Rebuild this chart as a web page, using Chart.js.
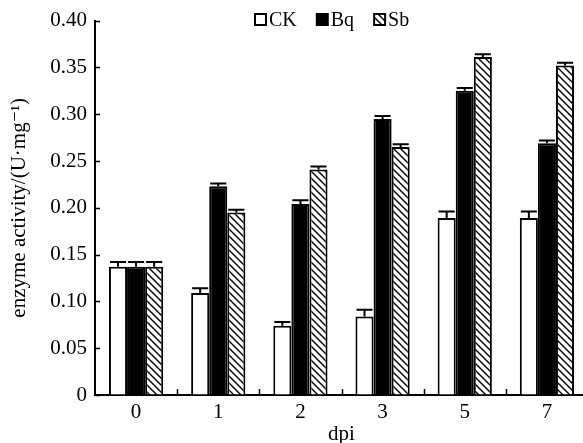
<!DOCTYPE html>
<html>
<head>
<meta charset="utf-8">
<script src="https://cdn.jsdelivr.net/npm/chart.js@4.4.1/dist/chart.umd.min.js"></script>
<style>
  html, body { margin: 0; padding: 0; background: #fff; overflow: hidden; }
  #wrap { width: 583px; height: 443px; overflow: hidden; }
</style>
</head>
<body>
<div id="wrap"><canvas id="grafico" width="600" height="447"></canvas></div>
<script>
// dados
const dias = ["0", "1", "2", "3", "5", "7"];
const valoresCK = [0.137, 0.109, 0.074, 0.084, 0.189, 0.189];
const errosCK   = [0.005, 0.005, 0.004, 0.007, 0.007, 0.007];
const valoresBq = [0.137, 0.223, 0.204, 0.295, 0.325, 0.269];
const errosBq   = [0.005, 0.003, 0.004, 0.003, 0.003, 0.003];
const valoresSb = [0.137, 0.195, 0.241, 0.265, 0.361, 0.352];
const errosSb   = [0.005, 0.003, 0.003, 0.003, 0.003, 0.003];
const ticksY = [0, 0.05, 0.10, 0.15, 0.20, 0.25, 0.30, 0.35, 0.40];

const fonte = "'Liberation Serif', 'DejaVu Serif', serif";

// hachura diagonal (\\\)
function criarHachura() {
  const c = document.createElement('canvas');
  const p = 7;
  c.width = p; c.height = p;
  const g = c.getContext('2d');
  g.fillStyle = '#fff';
  g.fillRect(0, 0, p, p);
  g.strokeStyle = '#000';
  g.lineWidth = 1.4;
  g.beginPath();
  g.moveTo(-1, -1); g.lineTo(p + 1, p + 1);
  g.moveTo(-1, p - 1); g.lineTo(1, p + 1);
  g.moveTo(p - 1, -1); g.lineTo(p + 1, 1);
  g.stroke();
  return g.createPattern(c, 'repeat');
}
const hachura = criarHachura();

const series = [
  { label: "CK", data: valoresCK, erros: errosCK, backgroundColor: '#fff' },
  { label: "Bq", data: valoresBq, erros: errosBq, backgroundColor: '#000' },
  { label: "Sb", data: valoresSb, erros: errosSb, backgroundColor: hachura }
];

// barras de erro
const pluginErros = {
  id: 'erros',
  afterDatasetsDraw(chart) {
    const ctx = chart.ctx;
    const y = chart.scales.y;
    ctx.save();
    ctx.strokeStyle = '#000';
    ctx.lineWidth = 2;
    chart.data.datasets.forEach((ds, i) => {
      const meta = chart.getDatasetMeta(i);
      meta.data.forEach((bar, j) => {
        const topo = y.getPixelForValue(ds.data[j]);
        const yErro = y.getPixelForValue(ds.data[j] + ds.erros[j]);
        const meia = bar.width / 2;
        ctx.beginPath();
        ctx.moveTo(bar.x, topo);
        ctx.lineTo(bar.x, yErro);
        ctx.moveTo(bar.x - meia + 1, yErro);
        ctx.lineTo(bar.x + meia - 1, yErro);
        ctx.stroke();
      });
    });
    ctx.restore();
  }
};

// marcas dos eixos voltadas para dentro
const pluginMarcas = {
  id: 'marcas',
  afterDraw(chart) {
    const ctx = chart.ctx;
    const { x, y } = chart.scales;
    const area = chart.chartArea;
    ctx.save();
    ctx.strokeStyle = '#000';
    ctx.lineWidth = 1.5;
    ctx.beginPath();
    ticksY.forEach(v => {
      const py = Math.round(y.getPixelForValue(v)) + 0.5;
      ctx.moveTo(area.left, py);
      ctx.lineTo(area.left + 5, py);
    });
    for (let i = 0; i < dias.length - 1; i++) {
      const px = Math.round((x.getPixelForValue(i) + x.getPixelForValue(i + 1)) / 2) + 0.5;
      ctx.moveTo(px, area.bottom);
      ctx.lineTo(px, area.bottom - 6);
    }
    ctx.stroke();
    ctx.restore();
  }
};

// legenda no topo
const pluginLegenda = {
  id: 'legenda',
  afterDraw(chart) {
    const ctx = chart.ctx;
    ctx.save();
    ctx.font = "20px " + fonte;
    ctx.textBaseline = 'middle';
    ctx.fillStyle = '#000';
    let px = 255;
    const py = 20;
    chart.data.datasets.forEach(ds => {
      ctx.fillStyle = ds.backgroundColor;
      ctx.fillRect(px, py - 6, 11, 11);
      ctx.strokeStyle = '#000';
      ctx.lineWidth = 2;
      ctx.strokeRect(px, py - 6, 11, 11);
      ctx.fillStyle = '#000';
      ctx.fillText(ds.label, px + 14, py + 1);
      px += 14 + ctx.measureText(ds.label).width + 20;
    });
    ctx.restore();
  }
};

new Chart(document.getElementById('grafico'), {
  type: 'bar',
  data: {
    labels: dias,
    datasets: series.map(s => ({
      label: s.label,
      data: s.data,
      erros: s.erros,
      backgroundColor: s.backgroundColor,
      borderColor: '#000',
      borderWidth: 2,
      categoryPercentage: 0.66,
      barPercentage: 1
    }))
  },
  options: {
    responsive: false,
    devicePixelRatio: 1,
    animation: false,
    layout: { padding: { top: 20, right: 12, left: 0, bottom: 0 } },
    plugins: {
      legend: { display: false },
      tooltip: { enabled: false }
    },
    scales: {
      x: {
        offset: true,
        grid: { drawOnChartArea: false, drawTicks: false },
        border: { color: '#000', width: 2 },
        ticks: { color: '#000', font: { family: fonte, size: 21 }, padding: 5 },
        title: { display: true, text: 'dpi', color: '#000', font: { family: fonte, size: 21 }, padding: 0 },
        afterFit(s) { s.height = 52; }
      },
      y: {
        min: 0,
        max: 0.4,
        grid: { drawOnChartArea: false, drawTicks: false },
        border: { color: '#000', width: 2 },
        afterBuildTicks(s) { s.ticks = ticksY.map(v => ({ value: v })); },
        ticks: {
          color: '#000',
          font: { family: fonte, size: 21 },
          padding: 8,
          callback: v => v === 0 ? '0' : v.toFixed(2)
        },
        title: {
          display: true,
          text: 'enzyme activity/(U·mg⁻¹)',
          color: '#000',
          font: { family: fonte, size: 21 },
          padding: { top: 7, bottom: 0 }
        },
        afterFit(s) { s.width = 95; }
      }
    }
  },
  plugins: [pluginErros, pluginMarcas, pluginLegenda]
});
</script>
</body>
</html>
